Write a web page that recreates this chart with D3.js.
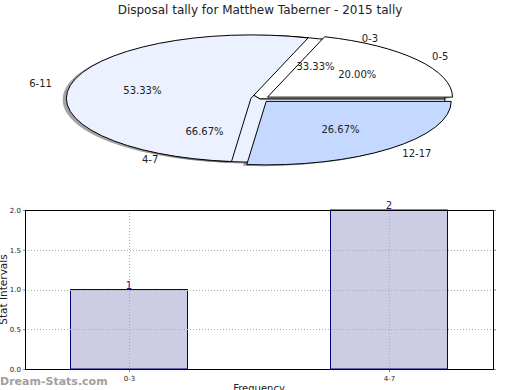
<!DOCTYPE html>
<html>
<head>
<meta charset="utf-8">
<script src="https://cdn.jsdelivr.net/npm/d3@7"></script>
<style>
body { margin:0; background:#fff; }
svg { display:block; font-family:"DejaVu Sans", sans-serif; }
</style>
</head>
<body>
<svg id="chart" width="520" height="390"></svg>
<script>
// data
const titleText = "Disposal tally for Matthew Taberner - 2015 tally";

const pieALabels = ["0-3", "4-7"];
const pieAValues = [1, 2];

const pieBLabels = ["0-5", "6-11", "12-17"];
const pieBValues = [3, 8, 4];

const barCategories = ["0-3", "4-7"];
const barValues = [1, 2];
const yTicks = [0, 0.5, 1.0, 1.5, 2.0];

const pieColors = ["#ffffff", "#ebf1ff", "#c5d8ff"];

const svg = d3.select("#chart");

svg.append("text")
    .attr("x", 260)
    .attr("y", 14)
    .attr("text-anchor", "middle")
    .attr("font-size", 12)
    .attr("fill", "#222")
    .text(titleText);

// ---- pies (matplotlib style: counter-clockwise from 3 o'clock)
const cx = 260, cy = 99, rx = 185, ry = 63.5;

const pie = d3.pie()
    .sort(null)
    .startAngle(Math.PI / 2)
    .endAngle(Math.PI / 2 - 2 * Math.PI);

const arc = d3.arc().innerRadius(0).outerRadius(1);

function shade(c){
    const r = d3.rgb(c);
    return d3.rgb(r.r * 0.3, r.g * 0.3, r.b * 0.3).toString();
}

const pieA = pie(pieAValues).map((d, i) => ({...d, label: pieALabels[i], explode: 0, color: pieColors[i]}));
const pieB = pie(pieBValues).map((d, i) => ({...d, label: pieBLabels[i], explode: 0.05, color: pieColors[i]}));

function offset(d){
    const a = (d.startAngle + d.endAngle) / 2;
    return [cx + d.explode * rx * Math.sin(a), cy - d.explode * ry * Math.cos(a)];
}

const allSlices = pieA.concat(pieB);

// shadows first, behind every wedge
svg.append("g").selectAll("path")
    .data(allSlices)
    .join("path")
    .attr("d", arc)
    .attr("transform", d => {
        const [ox, oy] = offset(d);
        return `translate(${ox - 0.02 * rx},${oy + 0.02 * ry}) scale(${rx},${ry})`;
    })
    .attr("fill", d => shade(d.color))
    .attr("opacity", 0.5);

svg.append("g").selectAll("path")
    .data(allSlices)
    .join("path")
    .attr("d", arc)
    .attr("transform", d => {
        const [ox, oy] = offset(d);
        return `translate(${ox},${oy}) scale(${rx},${ry})`;
    })
    .attr("fill", d => d.color)
    .attr("stroke", "#000")
    .attr("stroke-width", 1)
    .attr("vector-effect", "non-scaling-stroke")
    .attr("stroke-linejoin", "round");

function addPieText(slices, values){
    const sum = d3.sum(values);
    const g = svg.append("g").attr("font-size", 10).attr("fill", "#222");
    slices.forEach(d => {
        const a = (d.startAngle + d.endAngle) / 2;
        const [ox, oy] = offset(d);
        const sx = Math.sin(a), sy = -Math.cos(a);
        g.append("text")
            .attr("x", ox + 0.6 * rx * sx)
            .attr("y", oy + 0.6 * ry * sy)
            .attr("text-anchor", "middle")
            .attr("dominant-baseline", "central")
            .text((d.value / sum * 100).toFixed(2) + "%");
        g.append("text")
            .attr("x", ox + 1.1 * rx * sx)
            .attr("y", oy + 1.1 * ry * sy)
            .attr("text-anchor", sx > 0 ? "start" : "end")
            .attr("dominant-baseline", "central")
            .text(d.label);
    });
}
addPieText(pieA, pieAValues);
addPieText(pieB, pieBValues);

// ---- bar chart
const plot = {left:25, right:493, top:210, bottom:369};

const x = d3.scaleLinear()
    .domain([-0.4, 1.4])
    .range([plot.left, plot.right]);

const y = d3.scaleLinear()
    .domain([0, 2])
    .range([plot.bottom, plot.top]);

const barW = 0.45;

svg.append("g").selectAll("rect")
    .data(barValues)
    .join("rect")
    .attr("x", (d, i) => x(i - barW / 2))
    .attr("width", x(barW) - x(0))
    .attr("y", d => y(d))
    .attr("height", d => y(0) - y(d))
    .attr("fill", "#ccccE5")
    .attr("stroke", "#000080")
    .attr("stroke-width", 1);

// grid on top of the bars
const grid = svg.append("g")
    .attr("stroke", "#aaa")
    .attr("stroke-width", 1)
    .attr("stroke-dasharray", "1,2");

grid.selectAll("line.h")
    .data(yTicks.slice(1, -1))
    .join("line")
    .attr("class", "h")
    .attr("x1", plot.left).attr("x2", plot.right)
    .attr("y1", d => Math.round(y(d)) + 0.5).attr("y2", d => Math.round(y(d)) + 0.5);

grid.selectAll("line.v")
    .data(barCategories)
    .join("line")
    .attr("class", "v")
    .attr("x1", (d, i) => Math.round(x(i)) + 0.5).attr("x2", (d, i) => Math.round(x(i)) + 0.5)
    .attr("y1", plot.top).attr("y2", plot.bottom);

svg.append("rect")
    .attr("x", plot.left + 0.5)
    .attr("y", plot.top + 0.5)
    .attr("width", plot.right - plot.left)
    .attr("height", plot.bottom - plot.top)
    .attr("fill", "none")
    .attr("stroke", "#000")
    .attr("stroke-width", 1);

// ticks
const yAxisL = d3.axisLeft(y).tickValues(yTicks).tickFormat(d3.format(".1f")).tickSize(2).tickPadding(2);
const gy = svg.append("g")
    .attr("transform", `translate(${plot.left},0)`)
    .call(yAxisL);
gy.select(".domain").remove();
gy.selectAll("line").attr("stroke", "#888");
gy.selectAll("text").attr("font-size", 7).attr("fill", "#222").attr("font-family", "DejaVu Sans");

const gyr = svg.append("g")
    .attr("transform", `translate(${plot.right + 1},0)`)
    .call(d3.axisRight(y).tickValues(yTicks).tickFormat("").tickSize(2));
gyr.select(".domain").remove();
gyr.selectAll("line").attr("stroke", "#888");

const gx = svg.append("g")
    .attr("transform", `translate(0,${plot.bottom + 1})`)
    .call(d3.axisBottom(x).tickValues([0, 1]).tickFormat((d, i) => barCategories[i]).tickSize(2).tickPadding(4));
gx.select(".domain").remove();
gx.selectAll("line").attr("stroke", "#888");
gx.selectAll("text").attr("font-size", 7).attr("fill", "#222").attr("font-family", "DejaVu Sans");

// value labels
svg.append("g").selectAll("text")
    .data(barValues)
    .join("text")
    .attr("x", (d, i) => x(i))
    .attr("y", d => y(d) - 1)
    .attr("text-anchor", "middle")
    .attr("font-size", 10)
    .attr("fill", "#1a1a80")
    .text(d => d);

svg.append("text")
    .attr("transform", `translate(7,${(plot.top + plot.bottom) / 2}) rotate(-90)`)
    .attr("text-anchor", "middle")
    .attr("font-size", 10.5)
    .attr("fill", "#222")
    .text("Stat Intervals");

svg.append("text")
    .attr("x", 259)
    .attr("y", 392)
    .attr("text-anchor", "middle")
    .attr("font-size", 10)
    .attr("fill", "#222")
    .text("Frequency");

svg.append("text")
    .attr("x", 0)
    .attr("y", 385)
    .attr("font-size", 11)
    .attr("fill", "#a0a0a0")
    .attr("font-weight", "bold")
    .text("Dream-Stats.com");
</script>
</body>
</html>
